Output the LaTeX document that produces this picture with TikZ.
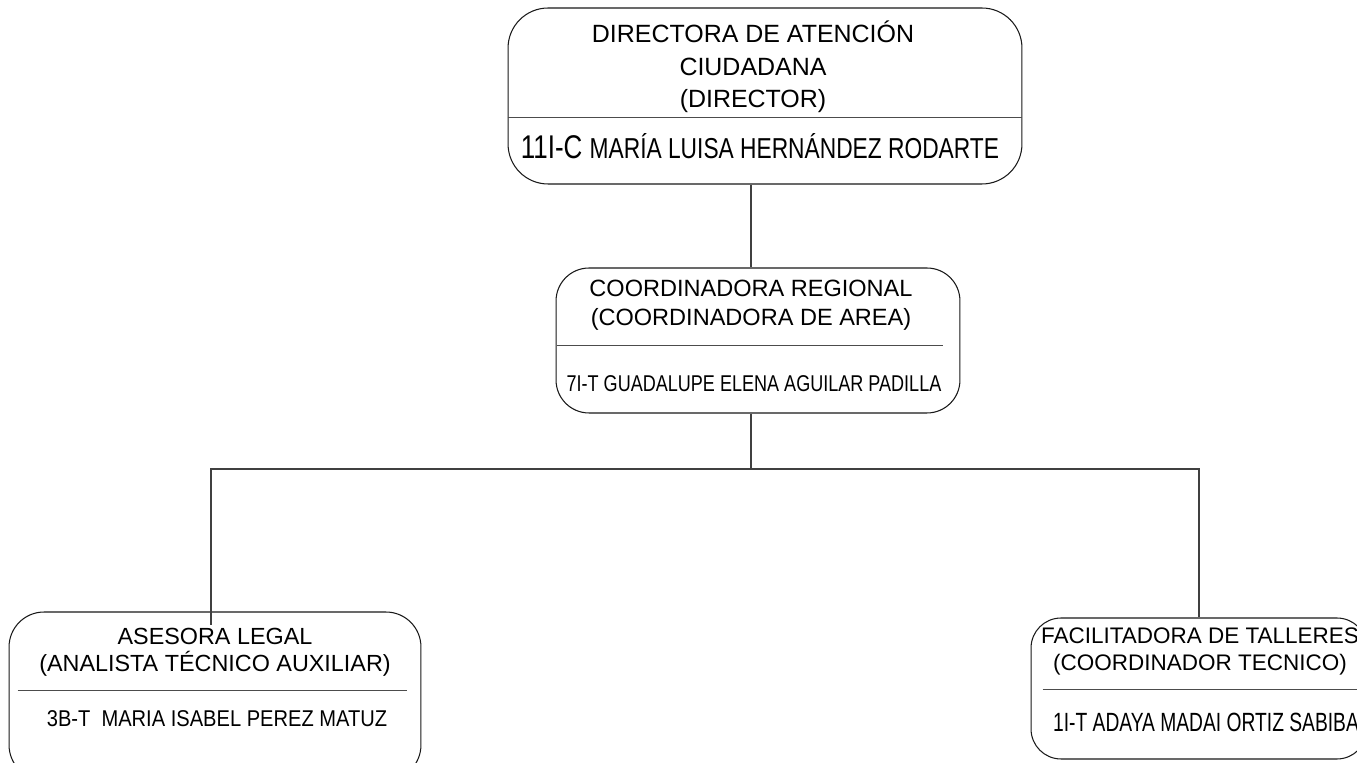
\documentclass[tikz,border=0pt]{standalone}
\usepackage{fontspec}
\setmainfont{Liberation Sans}
\newfontfamily\narrowfont[FakeStretch=0.79]{Liberation Sans}
\newfontfamily\narrowfontb[FakeStretch=0.88]{Liberation Sans}
\newfontfamily\narrowfontc[FakeStretch=0.73]{Liberation Sans}

\tikzset{
  box/.style={draw=black!90, line width=0.6pt, rounded corners=#1, inner sep=0pt},
  divider/.style={draw=black!70, line width=0.6pt},
  conn/.style={draw=black!75, line width=0.6pt},
  post/.style={align=center, inner sep=0pt, text=black},
  holder/.style={anchor=base, inner sep=0pt, text=black}
}

\begin{document}
\begin{tikzpicture}[x=0.02cm, y=-0.02cm]
\useasboundingbox (0,0) rectangle (1357,763);
\clip (0,0) rectangle (1357,763);

% boxes
\node[box=0.8cm, minimum width=10.28cm, minimum height=3.52cm] (dir) at (765,96) {};
\node[box=0.66cm, minimum width=8.08cm, minimum height=2.9cm] (coord) at (758,340.5) {};
\node[box=0.7cm, minimum width=8.24cm, minimum height=3.36cm] (legal) at (215,696) {};
\node[box=0.6cm, minimum width=6.72cm, minimum height=2.82cm] (talleres) at (1199,688.5) {};

% dividers
\draw[divider] ([yshift=-2.2cm]dir.north west) -- ([yshift=-2.2cm]dir.north east);
\draw[divider] ([xshift=0.02cm,yshift=-1.56cm]coord.north west) -- ([xshift=-0.34cm,yshift=-1.56cm]coord.north east);
\draw[divider] ([xshift=0.18cm,yshift=-1.58cm]legal.north west) -- ([xshift=-0.28cm,yshift=-1.58cm]legal.north east);
\draw[divider] ([xshift=0.24cm,yshift=-1.44cm]talleres.north west) -- ([yshift=-1.44cm]talleres.north east);

% texts
\node[post, font=\fontsize{14.2}{18.4}\selectfont] (dirpost) at (753,67)
  {DIRECTORA DE ATENCIÓN\\CIUDADANA\\(DIRECTOR)};
\node[holder] (dirname) at (760,159)
  {\narrowfont\fontsize{18.7}{20}\selectfont 11I-C \fontsize{16.4}{20}\selectfont MARÍA LUISA HERNÁNDEZ RODARTE};
\node[post, font=\fontsize{13.4}{16.2}\selectfont] (coordpost) at (751,305)
  {COORDINADORA REGIONAL\\(COORDINADORA DE AREA)};
\node[holder] (coordname) at (754,392)
  {\narrowfont\fontsize{13}{14}\selectfont 7I-T GUADALUPE ELENA AGUILAR PADILLA};
\node[post, font=\fontsize{13.3}{15.3}\selectfont] (legalpost) at (215,652)
  {ASESORA LEGAL\\(ANALISTA TÉCNICO AUXILIAR)};
\node[holder] (legalname) at (217,726)
  {\narrowfontb\fontsize{13}{14}\selectfont 3B-T\ \ MARIA ISABEL PEREZ MATUZ};
\node[post, font=\fontsize{12.8}{15.9}\selectfont] (tallerespost) at (1200,651.5)
  {FACILITADORA DE TALLERES\\(COORDINADOR TECNICO)};
\node[holder] (talleresname) at (1206,731)
  {\narrowfontc\fontsize{15}{16}\selectfont 1I-T ADAYA MADAI ORTIZ SABIBA};

% connectors
\coordinate (trunk) at (751,0);
\coordinate (bus) at (751,469);
\coordinate (legaldrop) at (211,625);
\draw[conn] (dir.south -| trunk) -- (coord.north -| trunk);
\draw[conn] (coord.south -| trunk) -- (bus);
\draw[conn] (legaldrop) |- (bus) -| (talleres.north);
\end{tikzpicture}
\end{document}
